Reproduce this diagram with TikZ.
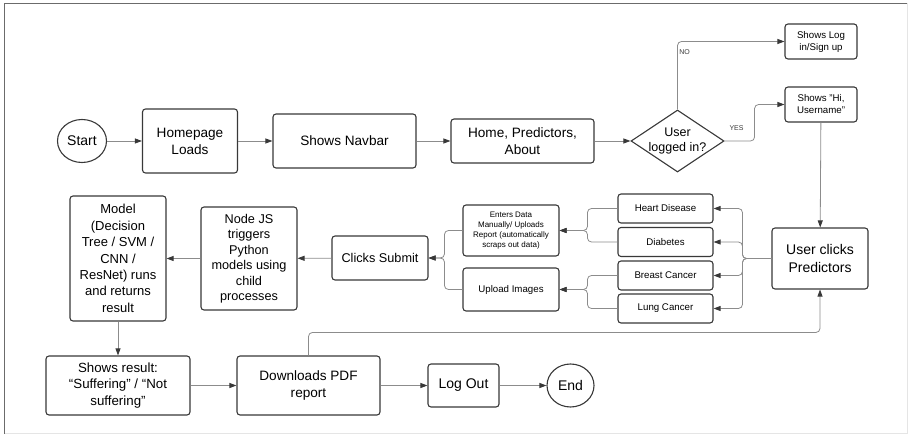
\documentclass[tikz,border=0pt]{standalone}
\usepackage{fontspec}
\setmainfont{Liberation Sans}
\usetikzlibrary{positioning,arrows.meta,shapes.geometric}
\definecolor{figdark}{gray}{0.22}
\definecolor{figline}{gray}{0.55}
\definecolor{figframe}{gray}{0.42}
\definecolor{figpale}{gray}{0.90}
\tikzset{
  box/.style={draw=figdark,line width=1.1pt,rounded corners=3pt,align=center,
              inner sep=2pt,font=\fontsize{13.6}{17}\selectfont},
  smallbox/.style={box,font=\fontsize{9.7}{12}\selectfont},
  tinybox/.style={box,font=\fontsize{8}{10.2}\selectfont},
  term/.style={draw=figdark,line width=1.1pt,ellipse,inner sep=0pt,
               font=\fontsize{14}{17}\selectfont},
  decision/.style={draw=figdark,line width=1.1pt,diamond,inner sep=0pt},
  ln/.style={-{Triangle[length=7pt,width=5pt,color=figdark]},line width=0.8pt,
             figline,rounded corners=4pt},
  lbl/.style={font=\fontsize{7}{8}\selectfont,inner sep=1.5pt,text=figdark},
}

\begin{document}
\begin{tikzpicture}[x=1pt,y=-1pt]
\useasboundingbox (0,0) rectangle (909,435);
\draw[figpale,line width=1pt] (907,3.5) -- (907,433.5) -- (4.5,433.5);
\draw[figframe,line width=1.6pt] (4.5,433.5) -- (4.5,3.5) -- (907,3.5);

\node[term,minimum width=49pt,minimum height=43pt] (start) at (82,141) {Start};
\node[box,minimum width=95pt,minimum height=64pt] (homepage) at (190,141) {Homepage\\Loads};
\node[box,minimum width=143pt,minimum height=54pt] (navbar) at (344.5,141) {Shows Navbar};
\node[box,minimum width=143pt,minimum height=44pt] (menu) at (522.5,141) {Home, Predictors,\\About};
\node[decision,minimum width=93pt,minimum height=62pt,
      label={[font=\fontsize{12.5}{15.5}\selectfont,align=center]center:User\\logged in?}]
      (login) at (677.5,141) {};
\node[smallbox,minimum width=72pt,minimum height=35pt] (signup) at (821,41.5) {Shows Log\\in/Sign up};
\node[smallbox,minimum width=72pt,minimum height=35pt] (greet) at (821,104.5) {Shows "Hi,\\Username"};

\node[box,minimum width=96pt,minimum height=61pt,font=\fontsize{14}{17.5}\selectfont]
      (predictors) at (820,258.5) {User clicks\\Predictors};
\node[smallbox,minimum width=95pt,minimum height=29pt] (heart) at (665.5,208.5) {Heart Disease};
\node[smallbox,minimum width=95pt,minimum height=29pt] (diabetes) at (665.5,242) {Diabetes};
\node[smallbox,minimum width=95pt,minimum height=29pt] (breast) at (665.5,275.5) {Breast Cancer};
\node[smallbox,minimum width=95pt,minimum height=29pt] (lung) at (665.5,308.5) {Lung Cancer};
\node[tinybox,minimum width=96pt,minimum height=51pt] (enterdata) at (511,230.5)
      {Enters Data\\Manually/ Uploads\\Report (automatically\\scraps out data)};
\node[smallbox,minimum width=96pt,minimum height=43pt] (upload) at (511,289.5) {Upload Images};
\node[box,minimum width=96pt,minimum height=44pt,font=\fontsize{12.7}{15.5}\selectfont]
      (submit) at (380,258) {Clicks Submit};
\node[box,minimum width=96pt,minimum height=103pt,font=\fontsize{12.7}{15.5}\selectfont]
      (nodejs) at (249,258.5) {Node JS\\triggers\\Python\\models using\\child\\processes};
\node[box,minimum width=96pt,minimum height=125pt,font=\fontsize{13}{16.4}\selectfont]
      (model) at (118,258.5) {Model\\(Decision\\Tree / SVM /\\CNN /\\ResNet) runs\\and returns\\result};

\node[box,minimum width=144pt,minimum height=59pt,font=\fontsize{13.3}{16.5}\selectfont]
      (result) at (118,385.5) {Shows result:\\“Suffering” / “Not\\suffering”};
\node[box,minimum width=143pt,minimum height=59pt] (pdf) at (308.5,385.5) {Downloads PDF\\report};
\node[box,minimum width=71pt,minimum height=43pt,font=\fontsize{14}{17}\selectfont]
      (logout) at (463.5,385.5) {Log Out};
\node[term,minimum width=47pt,minimum height=43pt] (endnode) at (570.5,385.5) {End};

\draw[ln] (start) -- (homepage);
\draw[ln] (homepage) -- (navbar);
\draw[ln] (navbar) -- (menu);
\draw[ln] (menu) -- (login);
\draw[ln] (login.north) |- (signup.west) node[lbl,right,pos=0.42]{NO};
\draw[ln] (login.east) -- ++(30,0) node[lbl,above=9pt,pos=0.4]{YES} |- (greet.west);
\draw[ln] (greet) -- (predictors);

\draw[ln] (predictors.west) -- ++(-29,0) |- (heart.east);
\draw[ln] (predictors.west) -- ++(-29,0) |- (diabetes.east);
\draw[ln] (predictors.west) -- ++(-29,0) |- (breast.east);
\draw[ln] (predictors.west) -- ++(-29,0) |- (lung.east);

\draw[ln] (heart.west) -- ++(-30,0) |- (enterdata.east);
\draw[ln] (diabetes.west) -- ++(-30,0) |- (enterdata.east);
\draw[ln] (breast.west) -- ++(-30,0) |- (upload.east);
\draw[ln] (lung.west) -- ++(-30,0) |- (upload.east);

\draw[ln] (enterdata.west) -- ++(-18,0) |- (submit.east);
\draw[ln] (upload.west) -- ++(-18,0) |- (submit.east);

\draw[ln] (submit) -- (nodejs);
\draw[ln] (nodejs) -- (model);
\draw[ln] (model) -- (result);
\draw[ln] (result) -- (pdf);
\draw[ln] (pdf) -- (logout);
\draw[ln] (logout) -- (endnode);
\draw[ln] (pdf.north) -- ++(0,-23) -| (predictors.south);

\end{tikzpicture}
\end{document}
